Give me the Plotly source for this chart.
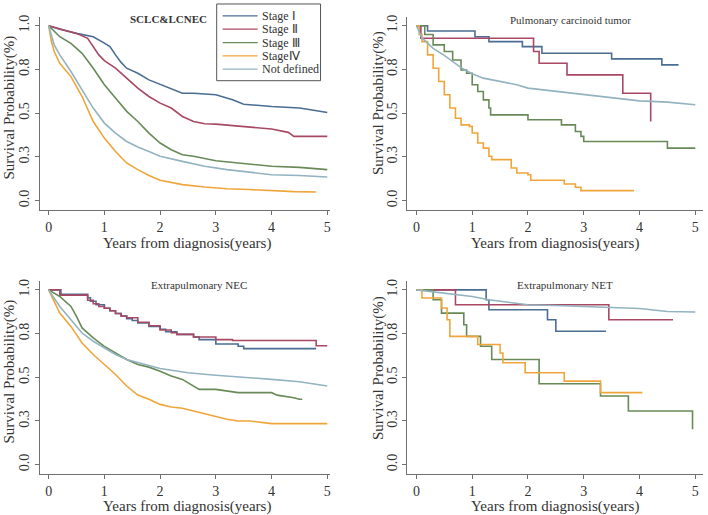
import plotly.graph_objects as go

# ---------------- data ----------------
series_names = ["Stage Ⅰ", "Stage Ⅱ", "Stage Ⅲ", "StageⅣ", "Not defined"]
panel_titles = ["SCLC&LCNEC", "Pulmonary carcinoid tumor", "Extrapulmonary NEC", "Extrapulmonary NET"]
x_ticks = [0, 1, 2, 3, 4, 5]
y_tickvals = [0, 0.25, 0.5, 0.75, 1.0]
y_ticktext = ["0.0", "0.3", "0.5", "0.8", "1.0"]
x_title = "Years from diagnosis(years)"
y_title = "Survival Probability(%)"

# Panel 1: SCLC&LCNEC
p1_s1_t = [0, 0.2, 0.5, 0.8, 1.0, 1.1, 1.2, 1.3, 1.4, 1.6, 1.8, 2.0, 2.2, 2.4, 2.6, 3.0, 3.3, 3.5, 4.0, 4.5, 4.7, 5.0]
p1_s1_s = [1.0, 0.98, 0.956, 0.937, 0.90, 0.88, 0.833, 0.79, 0.757, 0.728, 0.69, 0.665, 0.639, 0.614, 0.614, 0.605, 0.576, 0.551, 0.538, 0.529, 0.519, 0.504]
p1_s2_t = [0, 0.3, 0.5, 0.7, 0.8, 0.9, 1.0, 1.2, 1.4, 1.6, 1.8, 2.0, 2.2, 2.4, 2.6, 2.8, 3.0, 3.5, 4.0, 4.3, 4.4, 5.0]
p1_s2_s = [1.0, 0.975, 0.956, 0.928, 0.88, 0.833, 0.80, 0.757, 0.70, 0.643, 0.595, 0.557, 0.529, 0.481, 0.452, 0.439, 0.437, 0.424, 0.409, 0.39, 0.367, 0.367]
p1_s3_t = [0, 0.2, 0.4, 0.6, 0.8, 1.0, 1.2, 1.4, 1.6, 1.8, 2.0, 2.2, 2.4, 2.6, 3.0, 3.5, 4.0, 4.5, 5.0]
p1_s3_s = [1.0, 0.937, 0.899, 0.842, 0.757, 0.662, 0.586, 0.51, 0.452, 0.386, 0.329, 0.291, 0.262, 0.253, 0.228, 0.211, 0.196, 0.19, 0.177]
p1_s4_t = [0, 0.05, 0.1, 0.2, 0.4, 0.6, 0.8, 1.0, 1.2, 1.4, 1.6, 1.8, 2.0, 2.4, 2.8, 3.2, 3.6, 4.0, 4.4, 4.8]
p1_s4_s = [1.0, 0.909, 0.852, 0.785, 0.709, 0.595, 0.452, 0.357, 0.281, 0.215, 0.177, 0.143, 0.116, 0.091, 0.078, 0.068, 0.063, 0.055, 0.051, 0.049]
p1_s5_t = [0, 0.05, 0.1, 0.2, 0.4, 0.6, 0.8, 1.0, 1.2, 1.4, 1.6, 1.8, 2.0, 2.4, 2.8, 3.2, 3.6, 4.0, 4.5, 5.0]
p1_s5_s = [1.0, 0.947, 0.89, 0.833, 0.738, 0.633, 0.529, 0.443, 0.386, 0.338, 0.306, 0.281, 0.253, 0.224, 0.196, 0.177, 0.163, 0.148, 0.143, 0.135]

# Panel 2: Pulmonary carcinoid tumor
p2_s1_t = [0, 0.2, 1.05, 1.3, 1.9, 2.25, 3.5, 4.4, 4.7]
p2_s1_s = [1.0, 0.97, 0.937, 0.909, 0.88, 0.842, 0.81, 0.776, 0.776]
p2_s2_t = [0, 0.08, 2.1, 2.2, 2.7, 3.7, 4.2]
p2_s2_s = [1.0, 0.928, 0.852, 0.785, 0.719, 0.614, 0.452]
p2_s3_t = [0, 0.15, 0.3, 0.5, 0.65, 0.8, 0.9, 1.0, 1.1, 1.2, 1.3, 1.33, 2.0, 2.6, 2.85, 2.95, 3.0, 4.5, 5.0]
p2_s3_s = [1.0, 0.95, 0.89, 0.852, 0.804, 0.747, 0.728, 0.662, 0.624, 0.576, 0.529, 0.49, 0.462, 0.433, 0.395, 0.367, 0.338, 0.30, 0.30]
p2_s4_t = [0, 0.05, 0.1, 0.2, 0.3, 0.4, 0.5, 0.6, 0.7, 0.8, 0.95, 1.0, 1.1, 1.2, 1.3, 1.35, 1.7, 1.8, 2.0, 2.05, 2.65, 2.85, 2.95, 3.9]
p2_s4_s = [1.0, 0.95, 0.909, 0.833, 0.757, 0.681, 0.605, 0.529, 0.471, 0.433, 0.424, 0.386, 0.329, 0.30, 0.253, 0.234, 0.186, 0.158, 0.148, 0.116, 0.095, 0.076, 0.057, 0.057]
p2_s5_t = [0, 0.1, 0.3, 0.5, 0.8, 1.0, 1.2, 1.5, 1.8, 2.0, 2.5, 3.0, 3.5, 4.0, 4.5, 5.0]
p2_s5_s = [1.0, 0.93, 0.87, 0.83, 0.76, 0.725, 0.70, 0.681, 0.662, 0.643, 0.624, 0.605, 0.586, 0.57, 0.563, 0.548]

# Panel 3: Extrapulmonary NEC
p3_s1_t = [0, 0.22, 0.7, 0.75, 0.85, 1.0, 1.1, 1.2, 1.3, 1.4, 1.5, 1.6, 1.8, 2.0, 2.1, 2.3, 2.6, 2.7, 3.0, 3.4, 3.5, 4.8]
p3_s1_s = [1.0, 0.975, 0.955, 0.935, 0.915, 0.895, 0.88, 0.865, 0.85, 0.835, 0.825, 0.81, 0.79, 0.775, 0.76, 0.745, 0.73, 0.715, 0.69, 0.677, 0.664, 0.664]
p3_s2_t = [0, 0.2, 0.7, 0.8, 0.9, 1.0, 1.1, 1.2, 1.3, 1.4, 1.6, 1.8, 2.0, 2.2, 2.3, 2.6, 3.0, 3.3, 4.8, 5.0]
p3_s2_s = [1.0, 0.97, 0.94, 0.92, 0.905, 0.895, 0.88, 0.865, 0.85, 0.84, 0.815, 0.795, 0.77, 0.755, 0.745, 0.73, 0.715, 0.71, 0.68, 0.68]
p3_s3_t = [0, 0.1, 0.2, 0.4, 0.5, 0.6, 0.8, 1.0, 1.2, 1.4, 1.6, 1.8, 2.0, 2.2, 2.4, 2.6, 2.7, 3.0, 3.4, 4.0, 4.1, 4.4, 4.5, 4.55]
p3_s3_s = [1.0, 0.98, 0.962, 0.905, 0.848, 0.782, 0.725, 0.677, 0.639, 0.602, 0.573, 0.558, 0.535, 0.507, 0.488, 0.45, 0.431, 0.431, 0.412, 0.412, 0.398, 0.383, 0.374, 0.374]
p3_s4_t = [0, 0.1, 0.2, 0.4, 0.6, 0.8, 1.0, 1.2, 1.4, 1.6, 1.8, 2.0, 2.2, 2.4, 2.6, 2.8, 3.0, 3.2, 3.4, 3.6, 4.0, 5.0]
p3_s4_s = [1.0, 0.934, 0.867, 0.791, 0.696, 0.63, 0.573, 0.516, 0.45, 0.398, 0.374, 0.345, 0.33, 0.323, 0.307, 0.292, 0.279, 0.26, 0.25, 0.25, 0.235, 0.235]
p3_s5_t = [0, 0.1, 0.2, 0.4, 0.6, 0.8, 1.0, 1.2, 1.4, 1.6, 1.8, 2.0, 2.5, 3.0, 3.5, 4.0, 4.5, 5.0]
p3_s5_s = [1.0, 0.953, 0.905, 0.829, 0.753, 0.706, 0.668, 0.63, 0.602, 0.583, 0.567, 0.55, 0.526, 0.512, 0.501, 0.488, 0.474, 0.45]

# Panel 4: Extrapulmonary NET
p4_s1_t = [0, 1.25, 1.3, 2.35, 2.5, 3.4]
p4_s1_s = [1.0, 0.943, 0.886, 0.829, 0.763, 0.763]
p4_s2_t = [0, 0.7, 3.45, 4.6]
p4_s2_s = [1.0, 0.915, 0.829, 0.829]
p4_s3_t = [0, 0.3, 0.45, 0.85, 0.9, 1.15, 1.35, 2.2, 3.3, 3.8, 4.95]
p4_s3_s = [1.0, 0.943, 0.867, 0.80, 0.734, 0.677, 0.602, 0.463, 0.393, 0.307, 0.203]
p4_s4_t = [0, 0.1, 0.45, 0.55, 0.6, 1.1, 1.5, 1.55, 1.95, 2.65, 3.3, 4.05]
p4_s4_s = [1.0, 0.953, 0.896, 0.829, 0.734, 0.687, 0.639, 0.583, 0.526, 0.478, 0.412, 0.412]
p4_s5_t = [0, 0.5, 1.0, 1.3, 2.0, 2.5, 3.0, 3.5, 4.0, 4.5, 5.0]
p4_s5_s = [1.0, 0.98, 0.962, 0.943, 0.915, 0.91, 0.905, 0.9, 0.893, 0.876, 0.873]

panels = [
    [(p1_s1_t, p1_s1_s), (p1_s2_t, p1_s2_s), (p1_s3_t, p1_s3_s), (p1_s4_t, p1_s4_s), (p1_s5_t, p1_s5_s)],
    [(p2_s1_t, p2_s1_s), (p2_s2_t, p2_s2_s), (p2_s3_t, p2_s3_s), (p2_s4_t, p2_s4_s), (p2_s5_t, p2_s5_s)],
    [(p3_s1_t, p3_s1_s), (p3_s2_t, p3_s2_s), (p3_s3_t, p3_s3_s), (p3_s4_t, p3_s4_s), (p3_s5_t, p3_s5_s)],
    [(p4_s1_t, p4_s1_s), (p4_s2_t, p4_s2_s), (p4_s3_t, p4_s3_s), (p4_s4_t, p4_s4_s), (p4_s5_t, p4_s5_s)],
]

# ---------------- style ----------------
W, H = 708, 515
colors = ["#4a6d93", "#a84862", "#688a58", "#f0a53a", "#92b3c0"]
shapes_by_panel = [
    ["linear"] * 5,
    ["hv", "hv", "hv", "hv", "linear"],
    ["hv", "hv", "linear", "linear", "linear"],
    ["hv", "hv", "hv", "hv", "linear"],
]
SERIF = "Liberation Serif, Times New Roman, serif"
AX = "#707070"
TXT = "#333333"

geo = [
    dict(x0=40, x1=330, y0=15, y1=209, xr=[-0.156, 5.04], yr=[-0.055, 1.05]),
    dict(x0=408, x1=704, y0=15, y1=209, xr=[-0.161, 5.138], yr=[-0.055, 1.05]),
    dict(x0=40, x1=330, y0=280, y1=474, xr=[-0.156, 5.04], yr=[-0.054, 1.051]),
    dict(x0=408, x1=704, y0=280, y1=474, xr=[-0.161, 5.138], yr=[-0.054, 1.051]),
]
title_pos = [(169, 17, True), (571, 18, False), (199, 284, False), (566, 284, False)]
ytitle_pos = [(10, 106), (379, 101), (10, 371), (379, 367)]
xtitle_pos = [(187, 242), (556, 242), (187, 506), (556, 506)]

fig = go.Figure()
layout = dict(width=W, height=H, margin=dict(l=0, r=0, t=0, b=0),
              paper_bgcolor="white", plot_bgcolor="white", annotations=[], shapes=[],
              showlegend=False)

for p, series in enumerate(panels):
    sfx = "" if p == 0 else str(p + 1)
    for i, (t, s) in enumerate(series):
        fig.add_trace(go.Scatter(
            x=t, y=s, mode="lines", name=series_names[i],
            line=dict(color=colors[i], width=1.6, shape=shapes_by_panel[p][i]),
            xaxis="x" + sfx, yaxis="y" + sfx, hoverinfo="skip"))
    g = geo[p]
    layout["xaxis" + sfx] = dict(
        domain=[g["x0"] / W, g["x1"] / W], range=g["xr"], anchor="y" + sfx,
        showline=True, linecolor=AX, linewidth=1.3, ticks="outside", ticklen=4,
        tickcolor=AX, tickwidth=1.3, tickvals=x_ticks, showgrid=False, zeroline=False,
        tickfont=dict(family=SERIF, size=14, color=TXT), fixedrange=True)
    layout["yaxis" + sfx] = dict(
        domain=[1 - g["y1"] / H, 1 - g["y0"] / H], range=g["yr"], anchor="x" + sfx,
        showline=True, linecolor=AX, linewidth=1.3, ticks="outside", ticklen=4,
        tickcolor=AX, tickwidth=1.3, tickvals=y_tickvals, ticktext=y_ticktext,
        tickangle=-90, showgrid=False, zeroline=False,
        tickfont=dict(family=SERIF, size=14, color=TXT), fixedrange=True)
    tx, ty, bold = title_pos[p]
    layout["annotations"].append(dict(
        x=tx / W, y=1 - ty / H, xref="paper", yref="paper", showarrow=False,
        text=("<b>%s</b>" % panel_titles[p]) if bold else panel_titles[p],
        font=dict(family=SERIF, size=11, color=TXT), xanchor="center", yanchor="middle"))
    yx, yy = ytitle_pos[p]
    layout["annotations"].append(dict(
        x=yx / W, y=1 - yy / H, xref="paper", yref="paper", showarrow=False,
        text=y_title, textangle=-90,
        font=dict(family=SERIF, size=15, color=TXT), xanchor="center", yanchor="middle"))
    xx, xy = xtitle_pos[p]
    layout["annotations"].append(dict(
        x=xx / W, y=1 - xy / H, xref="paper", yref="paper", showarrow=False,
        text=x_title,
        font=dict(family=SERIF, size=15, color=TXT), xanchor="center", yanchor="middle"))

# legend box (drawn inside panel 1, like the Stata original)
LX0, LX1, LY0, LY1 = 217, 321, 2, 79
layout["shapes"].append(dict(type="rect", xref="paper", yref="paper",
                             x0=LX0 / W, x1=LX1 / W, y0=1 - LY1 / H, y1=1 - LY0 / H,
                             line=dict(color="#555555", width=1), fillcolor="white", layer="above"))
row_y = [14, 27.3, 40.7, 54, 67.3]
for i, name in enumerate(series_names):
    yy = 1 - row_y[i] / H
    layout["shapes"].append(dict(type="line", xref="paper", yref="paper",
                                 x0=223 / W, x1=258 / W, y0=yy, y1=yy,
                                 line=dict(color=colors[i], width=1.3), layer="above"))
    layout["annotations"].append(dict(
        x=260 / W, y=yy, xref="paper", yref="paper", showarrow=False, text=name,
        font=dict(family=SERIF, size=12, color=TXT), xanchor="left", yanchor="middle"))

fig.update_layout(**layout)
fig.write_html("out.html", config={"displayModeBar": False},
               post_script="document.body.style.margin='0';document.body.style.overflow='hidden';")
